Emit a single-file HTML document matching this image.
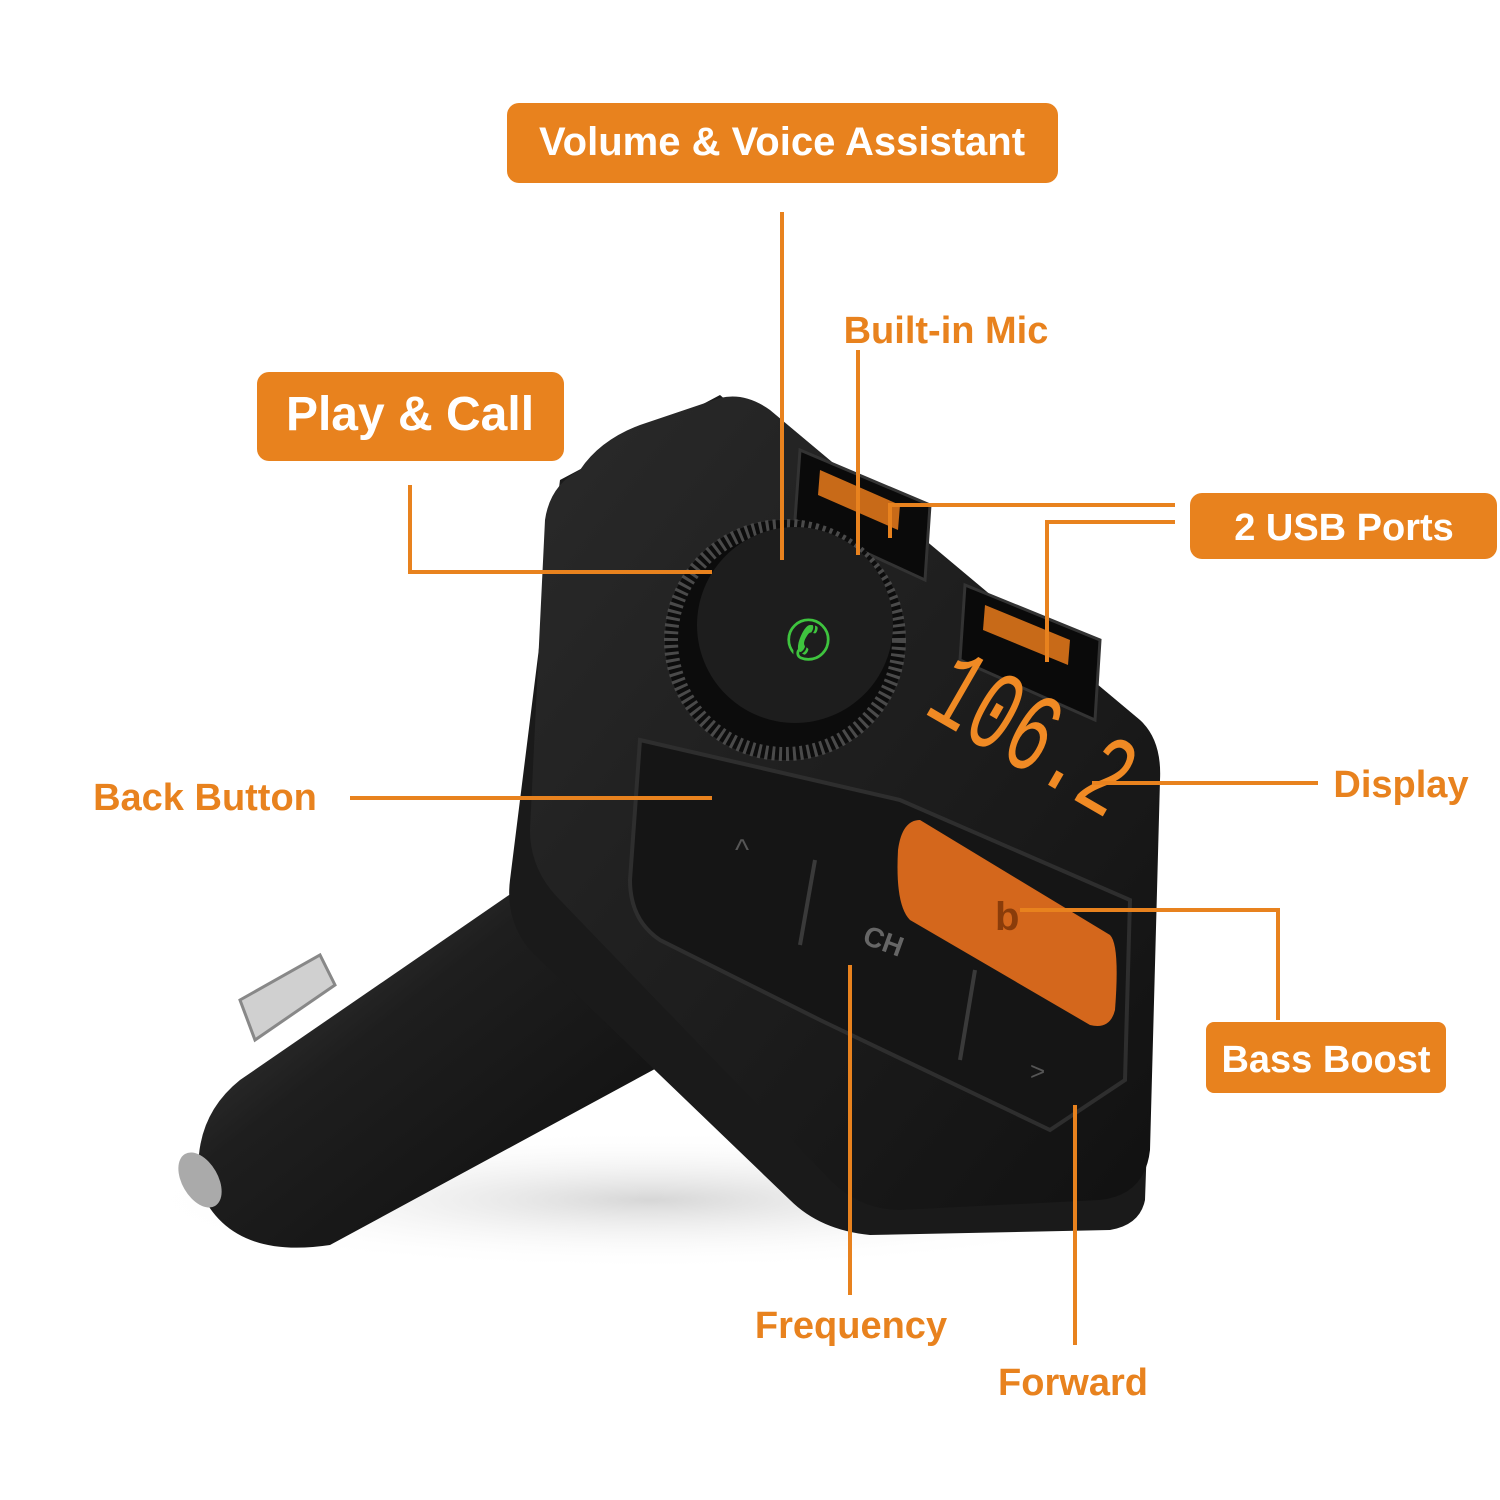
<!DOCTYPE html>
<html><head><meta charset="utf-8"><style>
html,body{margin:0;padding:0;background:#fff;}
svg{display:block}
.lbl{font-family:"Liberation Sans",sans-serif;font-weight:bold;fill:#fff}
.otx{font-family:"Liberation Sans",sans-serif;font-weight:bold;fill:#E8821E}
</style></head><body>
<svg width="1500" height="1500" viewBox="0 0 1500 1500" xmlns="http://www.w3.org/2000/svg">
<defs>
<linearGradient id="cyl" x1="0" y1="0" x2="1" y2="1">
<stop offset="0" stop-color="#4a4a4a"/><stop offset="0.4" stop-color="#1e1e1e"/><stop offset="1" stop-color="#0d0d0d"/></linearGradient>
<linearGradient id="face" x1="0" y1="0" x2="1" y2="1">
<stop offset="0" stop-color="#2a2a2a"/><stop offset="1" stop-color="#111"/></linearGradient>
<radialGradient id="sh" cx="0.5" cy="0.5" r="0.5"><stop offset="0" stop-color="#bbb" stop-opacity="0.6"/><stop offset="1" stop-color="#fff" stop-opacity="0"/></radialGradient>
</defs>
<ellipse cx="650" cy="1200" rx="520" ry="70" fill="url(#sh)"/>
<path d="M240 1080 L560 860 L690 1050 L330 1245 Q230 1260 200 1190 Q190 1120 240 1080Z" fill="url(#cyl)"/>
<ellipse cx="200" cy="1180" rx="18" ry="30" fill="#aaa" transform="rotate(-30 200 1180)"/>
<path d="M240 1000 L320 955 L335 985 L255 1040Z" fill="#d0d0d0" stroke="#888" stroke-width="3"/>
<path d="M560 480 L720 395 L1160 770 L1145 1200 Q1140 1225 1110 1230 L870 1235 Q820 1230 790 1200 L530 950 Q505 920 510 880 Z" fill="#1a1a1a"/>
<path d="M580 470 Q600 440 640 425 L720 398 Q745 392 770 410 L1140 720 Q1162 740 1160 780 L1150 1150 Q1145 1195 1100 1200 L900 1210 Q860 1210 830 1180 L560 900 Q530 870 530 830 L545 520 Q550 485 580 470Z" fill="url(#face)"/>
<path d="M800 450 L930 505 L925 580 L795 520Z" fill="#0a0a0a" stroke="#333" stroke-width="3"/>
<path d="M965 585 L1100 640 L1095 720 L960 660Z" fill="#0a0a0a" stroke="#333" stroke-width="3"/>
<path d="M820 470 L900 505 L898 530 L818 495Z" fill="#c86a18"/>
<path d="M985 605 L1070 640 L1068 665 L983 630Z" fill="#c86a18"/>
<path d="M640 740 L900 800 L1130 900 L1125 1080 L1050 1130 L820 1020 L660 940 Q630 920 630 880 Z" fill="#151515" stroke="#2e2e2e" stroke-width="4"/>
<line x1="815" y1="860" x2="800" y2="945" stroke="#3a3a3a" stroke-width="4"/>
<line x1="975" y1="970" x2="960" y2="1060" stroke="#3a3a3a" stroke-width="4"/>
<text x="735" y="860" font-family="Liberation Sans" font-size="30" fill="#555">^</text>
<text x="860" y="950" font-family="Liberation Sans" font-size="28" font-weight="bold" fill="#666" transform="rotate(20 880 950)">CH</text>
<text x="1030" y="1080" font-family="Liberation Sans" font-size="26" fill="#555">&gt;</text>
<path d="M920 820 L1110 935 Q1120 945 1115 1010 Q1110 1030 1090 1025 L910 920 Q895 905 898 850 Q902 820 920 820Z" fill="#d4671c"/>
<text x="995" y="930" font-family="Liberation Sans" font-size="40" font-weight="bold" fill="#8a3c0a">b</text>
<text font-family="Liberation Mono,monospace" font-size="115" fill="#F08A24" transform="translate(922,712) rotate(30) scale(0.62,1)">106.2</text>
<circle cx="785" cy="640" r="120" fill="#0c0c0c"/>
<circle cx="785" cy="640" r="114" fill="none" stroke="#4a4a4a" stroke-width="14" stroke-dasharray="3 4"/>
<circle cx="795" cy="625" r="98" fill="#1d1d1d"/>
<text x="785" y="660" font-size="56" fill="#3ec43e" font-family="DejaVu Sans">✆</text>
<g stroke="#E8821E" stroke-width="4" fill="none">
<path d="M782 212 V560"/>
<path d="M858 350 V555"/>
<path d="M410 485 V572 H712"/>
<path d="M1175 505 H890 V538"/>
<path d="M1175 522 H1047 V662"/>
<path d="M1092 783 H1318"/>
<path d="M350 798 H712"/>
<path d="M1020 910 H1278 V1020"/>
<path d="M850 965 V1295"/>
<path d="M1075 1105 V1345"/>
</g>
<rect x="507" y="103" width="551" height="80" rx="12" fill="#E8821E"/>
<text class="lbl" x="782" y="155" font-size="40" text-anchor="middle">Volume &amp; Voice Assistant</text>
<rect x="257" y="372" width="307" height="89" rx="12" fill="#E8821E"/>
<text class="lbl" x="410" y="430" font-size="48" text-anchor="middle">Play &amp; Call</text>
<rect x="1190" y="493" width="307" height="66" rx="12" fill="#E8821E"/>
<text class="lbl" x="1344" y="540" font-size="38" text-anchor="middle">2 USB Ports</text>
<rect x="1206" y="1022" width="240" height="71" rx="8" fill="#E8821E"/>
<text class="lbl" x="1326" y="1072" font-size="38" text-anchor="middle">Bass Boost</text>
<text class="otx" x="946" y="343" font-size="38" text-anchor="middle">Built-in Mic</text>
<text class="otx" x="205" y="810" font-size="38" text-anchor="middle">Back Button</text>
<text class="otx" x="1401" y="797" font-size="38" text-anchor="middle">Display</text>
<text class="otx" x="851" y="1338" font-size="38" text-anchor="middle">Frequency</text>
<text class="otx" x="1073" y="1395" font-size="38" text-anchor="middle">Forward</text>
</svg>
</body></html>
